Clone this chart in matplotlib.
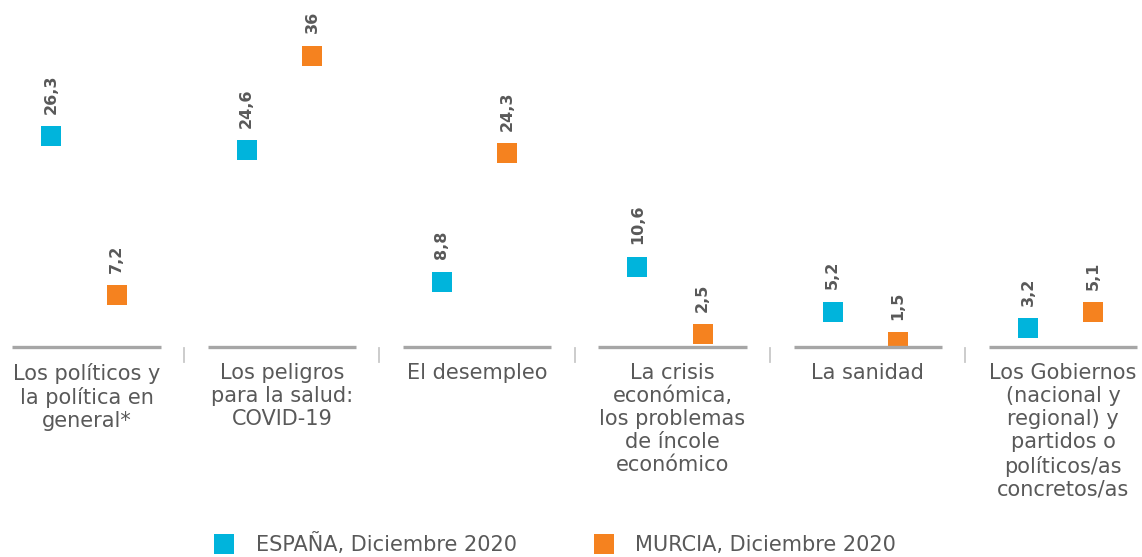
import matplotlib.pyplot as plt
from matplotlib.lines import Line2D

# data
categorias = ["Los políticos y\nla política en\ngeneral*",
              "Los peligros\npara la salud:\nCOVID-19",
              "El desempleo",
              "La crisis\neconómica,\nlos problemas\nde íncole\neconómico",
              "La sanidad",
              "Los Gobiernos\n(nacional y\nregional) y\npartidos o\npolíticos/as\nconcretos/as"]
espana = [26.3, 24.6, 8.8, 10.6, 5.2, 3.2]
murcia = [7.2, 36, 24.3, 2.5, 1.5, 5.1]
etiquetas = ["ESPAÑA, Diciembre 2020", "MURCIA, Diciembre 2020"]

azul = "#00B4DC"
naranja = "#F5821F"
gris_txt = "#595959"

plt.rcParams['font.family'] = ['DejaVu Sans']

fig = plt.figure(figsize=(11.42, 5.57), dpi=100)
ax = fig.add_axes([0, 0.377, 1, 0.623])

x = list(range(len(categorias)))
xe = [i - 0.18 for i in x]
xm = [i + 0.155 for i in x]
ax.plot(xe, espana, ls="none", marker="s", ms=13.7, color=azul, mew=0)
ax.plot(xm, murcia, ls="none", marker="s", ms=13.7, color=naranja, mew=0)

for xs, vals in ((xe, espana), (xm, murcia)):
    for xi, v in zip(xs, vals):
        txt = ("%g" % v).replace(".", ",")
        ax.annotate(txt, (xi, v), xytext=(0, 16), textcoords="offset points",
                    rotation=90, ha="center", va="bottom", fontsize=11.5,
                    fontweight="bold", color=gris_txt)

ax.set_xlim(-0.443, 5.404)
ax.set_ylim(0.93, 42.7)
ax.axis("off")

# eje por tramos
for i in x:
    ax.plot([i - 0.38, i + 0.38], [0, 0], color="#A6A6A6", lw=2.4,
            transform=ax.get_xaxis_transform(), clip_on=False, solid_capstyle="butt")
for i in x[:-1]:
    ax.plot([i + 0.5, i + 0.5], [-0.003, -0.042], color="#C8C8C8", lw=1.3,
            transform=ax.get_xaxis_transform(), clip_on=False)
for i, c in zip(x, categorias):
    ax.text(i, -0.045, c, transform=ax.get_xaxis_transform(), ha="center", va="top",
            fontsize=15, color=gris_txt, linespacing=1.2)

handles = [Line2D([], [], ls="none", marker="s", ms=13.7, color=azul, mew=0),
           Line2D([], [], ls="none", marker="s", ms=13.7, color=naranja, mew=0)]
fig.legend(handles, etiquetas, loc="center", bbox_to_anchor=(0.486, 0.023), ncol=2,
           frameon=False, fontsize=15, labelcolor=gris_txt, columnspacing=3.7,
           handletextpad=1.0, handlelength=1)

fig.savefig("out.png", dpi=100)
